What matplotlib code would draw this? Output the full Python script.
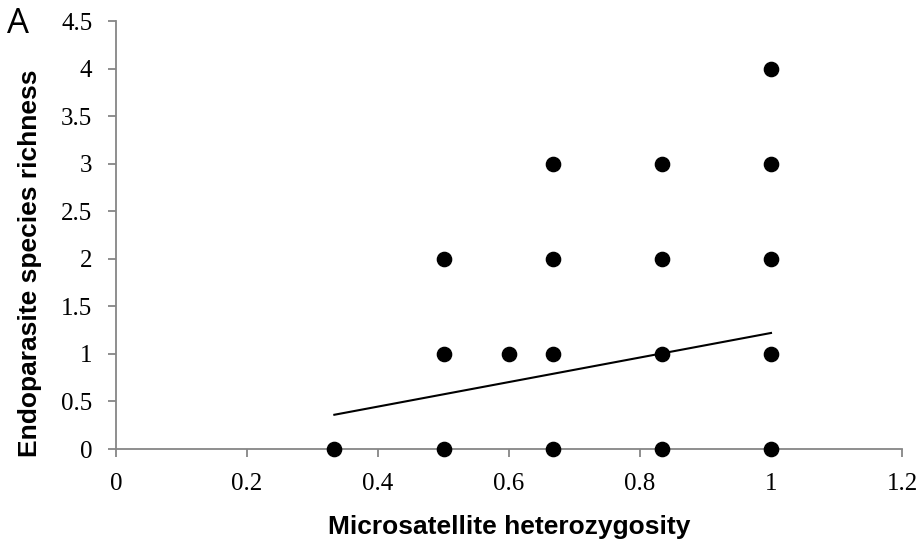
import matplotlib
matplotlib.use("Agg")
import matplotlib.pyplot as plt

heterozygosity = [1/3, 0.5, 0.5, 0.5, 0.6, 2/3, 2/3, 2/3, 2/3, 5/6, 5/6, 5/6, 5/6, 1, 1, 1, 1, 1]
richness = [0, 0, 1, 2, 1, 0, 1, 2, 3, 0, 1, 2, 3, 0, 1, 2, 3, 4]
trend_x = [1/3, 1.0]
trend_y = [0.36, 1.22]

x_ticks = [0, 0.2, 0.4, 0.6, 0.8, 1, 1.2]
x_ticklabels = ["0", "0.2", "0.4", "0.6", "0.8", "1", "1.2"]
y_ticks = [0, 0.5, 1, 1.5, 2, 2.5, 3, 3.5, 4, 4.5]
y_ticklabels = ["0", "0.5", "1", "1.5", "2", "2.5", "3", "3.5", "4", "4.5"]

fig = plt.figure(figsize=(9.24, 5.5), dpi=100)
ax = fig.add_axes([116/924, 1-449/550, (902-116)/924, (449-21)/550])

ax.plot(trend_x, trend_y, color="black", lw=1.5, zorder=2)
ax.scatter(heterozygosity, richness, s=105, color="black", zorder=3, clip_on=False)

ax.set_xlim(0, 1.2)
ax.set_ylim(0, 4.5)
ax.set_xticks(x_ticks)
ax.set_xticklabels(x_ticklabels)
ax.set_yticks(y_ticks)
ax.set_yticklabels(y_ticklabels)

gray = "#868686"
for s in ["top", "right"]:
    ax.spines[s].set_visible(False)
for s in ["left", "bottom"]:
    ax.spines[s].set_color(gray)
    ax.spines[s].set_linewidth(1.3)
ax.tick_params(axis="both", direction="out", length=6, width=1.3, color=gray,
               labelsize=18)
ax.tick_params(axis="x", pad=11.5)
ax.tick_params(axis="y", pad=11)
for lab in ax.get_xticklabels() + ax.get_yticklabels():
    lab.set_fontfamily("Liberation Serif")

fig.text(509/924, 1-527/550, "Microsatellite heterozygosity", fontsize=19,
         fontweight="bold", family="Liberation Sans", ha="center", va="center")
fig.text(30/924, 1-263/550, "Endoparasite species richness", fontsize=19,
         fontweight="bold", family="Liberation Sans", ha="center", va="center",
         rotation=90)

fig.text(7/924, 1-24/550, "A", fontsize=25, family="Open Sans", va="center", ha="left")

fig.savefig("out.png", dpi=100)
